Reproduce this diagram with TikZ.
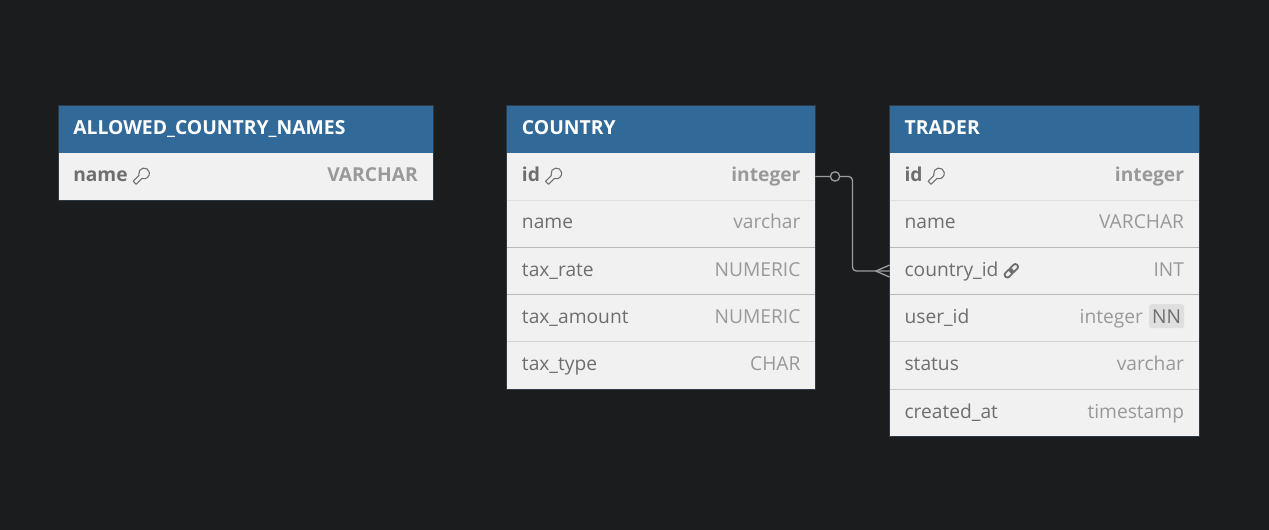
\documentclass[tikz,border=0pt]{standalone}
\usepackage{fontspec}
\setmainfont{Open Sans}
\definecolor{canvas}{HTML}{1B1C1E}
\definecolor{headblue}{HTML}{316A99}
\definecolor{rowfill}{HTML}{F1F1F1}
\definecolor{fieldtext}{HTML}{6E6E6E}
\definecolor{typetext}{HTML}{999999}
\definecolor{rowline}{HTML}{B8B8B8}
\definecolor{nnfill}{HTML}{DFDFDF}
\definecolor{linkline}{HTML}{9C9C9F}
\definecolor{tableline}{HTML}{2C3A47}
\tikzset{
	headbox/.style={fill=headblue,minimum height=35.25pt,anchor=north west,inner sep=0pt,outer sep=0pt},
	rowbox/.style={fill=rowfill,minimum height=35.5pt,anchor=north west,inner sep=0pt,outer sep=0pt},
	headtext/.style={text=white,anchor=west,font=\fontsize{14.5}{16}\selectfont\bfseries,inner sep=0pt,text height=10.5pt,text depth=3.5pt},
	fieldname/.style={text=fieldtext,anchor=west,font=\fontsize{14.4}{16}\selectfont,inner sep=0pt,text height=10.5pt,text depth=3.5pt},
	fieldtype/.style={text=typetext,anchor=east,font=\fontsize{14.4}{16}\selectfont,inner sep=0pt,text height=10.5pt,text depth=3.5pt},
	nnbox/.style={fill=nnfill,rounded corners=2pt,text=fieldtext,anchor=east,inner sep=0pt,minimum width=26.25pt,minimum height=18pt,font=\fontsize{14.4}{16}\selectfont},
	keyicon/.pic={
		\draw[fieldtext,line width=.8pt,rotate=-45]
		(-1.6pt,-7pt) -- (-1.6pt,-.8pt) -- (-2.3pt,-.3pt) arc (235:-55:4pt) -- (1.6pt,-.8pt) -- (1.6pt,-7pt) -- cycle;
	},
	linkicon/.pic={
		\draw[fieldtext,line width=1.4pt,rotate=45,rounded corners=1.8pt]
		(-6.2pt,-2pt) rectangle (.9pt,2pt) (-.9pt,-2pt) rectangle (6.2pt,2pt);
	},
}
\begin{document}
\begin{tikzpicture}[x=.75pt,y=-.75pt,line join=round,line cap=round]
	\path[use as bounding box,fill=canvas] (0,0) rectangle (1269,530);
	% the tables
	\foreach \t/\x/\w/\txt/\rows in {
		allowed/58/375/ALLOWED\_COUNTRY\_NAMES/{name/VARCHAR},
		country/506.7/309/COUNTRY/{id/integer,name/varchar,tax\_rate/NUMERIC,tax\_amount/NUMERIC,tax\_type/CHAR},
		trader/889.3/310/TRADER/{id/integer,name/VARCHAR,country\_id/INT,user\_id/integer\hspace*{30.75pt},status/varchar,created\_at/timestamp}}{
		\node[headbox,minimum width=\w*.75pt] (\t) at (\x,105.7) {};
		\node[headtext] (\t-title) at ([xshift=11.25pt,yshift=-.3pt]\t.west) {\txt};
		\foreach \f/\g [count=\n] in \rows {
			\pgfmathsetmacro\shade{{0,30,100,100,55,70}[\n-1]}
			\node[rowbox,minimum width=\w*.75pt] (\t-\n) at (\x,{152.8+(\n-1)*47.3}) {};
			\ifnum\n>1 \draw[rowline!\shade!rowfill,line width=.75pt] (\t-\n.north west)--(\t-\n.north east); \fi
			\node[fieldname] (\t-\n-name) at ([xshift=11.25pt,yshift=-.4pt]\t-\n.west) {\ifnum\n=1 \bfseries\fi\f};
			\node[fieldtype] (\t-\n-type) at ([xshift=-11.25pt,yshift=-.4pt]\t-\n.east) {\ifnum\n=1 \bfseries\fi\g};
		};
	};
	\foreach \t/\n in {allowed/1,country/5,trader/6}{
		\draw[tableline,line width=.5pt] (\t.north west) rectangle (\t-\n.south east);
	};
	% key and link icons
	\foreach \a in {allowed-1-name,country-1-name,trader-1-name}{
		\pic at ([xshift=10pt,yshift=.6pt]\a.east) {keyicon};
	};
	\pic at ([xshift=9.5pt,yshift=.6pt]trader-3-name.east) {linkicon};
	\node[nnbox] (trader-4-nn) at ([xshift=-11.25pt,yshift=1.6pt]trader-4.east) {NN};
	% the connector
	\coordinate (bend) at (852.5,0);
	\coordinate (crow) at ([xshift=-10.1pt]trader-3.west);
	\draw[linkline,line width=1pt,rounded corners=3pt] (country-1.east)--(bend|-country-1.east)--(bend|-trader-3.west)--(trader-3.west);
	\draw[linkline,line width=1pt] (crow)--([yshift=4.4pt]trader-3.west) (crow)--([yshift=-4.4pt]trader-3.west);
	\node[circle,draw=linkline,fill=canvas,line width=1pt,minimum size=7pt,inner sep=0pt] (zero) at ([xshift=14.5pt]country-1.east) {};
\end{tikzpicture}
\end{document}
